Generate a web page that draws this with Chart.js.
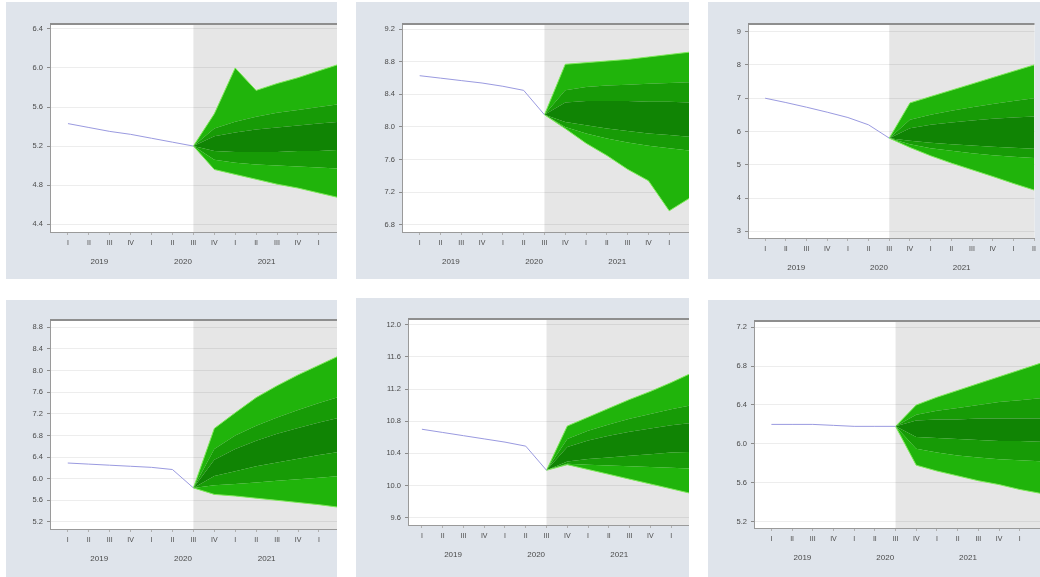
<!DOCTYPE html>
<html><head><meta charset="utf-8">
<script src="https://cdn.jsdelivr.net/npm/chart.js@4.4.1/dist/chart.umd.min.js"></script>
<style>
html,body{margin:0;padding:0;background:#fff;width:1040px;height:577px;overflow:hidden;}
.panel{position:absolute;background:#dfe4eb;overflow:hidden;}
.panel canvas{position:absolute;left:0;top:0;}
</style></head><body>
<div class="panel" style="left:6px;top:2px;width:331px;height:277px"><canvas id="c1" width="331" height="277"></canvas></div>
<div class="panel" style="left:356px;top:2px;width:333px;height:277px"><canvas id="c2" width="333" height="277"></canvas></div>
<div class="panel" style="left:708px;top:2px;width:332px;height:277px"><canvas id="c3" width="332" height="277"></canvas></div>
<div class="panel" style="left:6px;top:300px;width:331px;height:277px"><canvas id="c4" width="331" height="277"></canvas></div>
<div class="panel" style="left:356px;top:298px;width:333px;height:279px"><canvas id="c5" width="333" height="279"></canvas></div>
<div class="panel" style="left:708px;top:300px;width:332px;height:277px"><canvas id="c6" width="332" height="277"></canvas></div>
<script>
// ---- shared categories ----
const quarterLabels = ['I','II','III','IV','I','II','III','IV','I','II','III','IV','I','II'];
const yearLabels = ['2019','2020','2021'];
const yearCenters = [1.5, 5.5, 9.5];
const histIdx = [0,1,2,3,4,5,6];
const fanIdx = [6,7,8,9,10,11,12,13];
const forecastStart = 6;

// ---- panel 1 ----
const p1Ticks = ['4.4','4.8','5.2','5.6','6.0','6.4'];
const p1Hist = [5.43,5.39,5.35,5.32,5.28,5.24,5.20];
const p1Hi3 = [5.20,5.53,6.00,5.77,5.84,5.90,5.97,6.04];
const p1Hi2 = [5.20,5.38,5.45,5.50,5.54,5.57,5.60,5.63];
const p1Hi1 = [5.20,5.30,5.34,5.37,5.39,5.41,5.43,5.45];
const p1Lo1 = [5.20,5.15,5.14,5.14,5.14,5.15,5.15,5.16];
const p1Lo2 = [5.20,5.06,5.03,5.01,5.00,4.99,4.98,4.97];
const p1Lo3 = [5.20,4.96,4.91,4.86,4.81,4.77,4.72,4.67];

// ---- panel 2 ----
const p2Ticks = ['6.8','7.2','7.6','8.0','8.4','8.8','9.2'];
const p2Hist = [8.63,8.60,8.57,8.54,8.50,8.45,8.15];
const p2Hi3 = [8.15,8.77,8.79,8.81,8.83,8.86,8.89,8.92];
const p2Hi2 = [8.15,8.45,8.49,8.51,8.52,8.53,8.54,8.55];
const p2Hi1 = [8.15,8.30,8.32,8.32,8.32,8.31,8.31,8.30];
const p2Lo1 = [8.15,8.06,8.02,7.98,7.95,7.92,7.90,7.88];
const p2Lo2 = [8.15,8.00,7.92,7.86,7.81,7.77,7.74,7.71];
const p2Lo3 = [8.15,7.98,7.80,7.65,7.48,7.34,6.97,7.13];

// ---- panel 3 ----
const p3Ticks = ['3','4','5','6','7','8','9'];
const p3Hist = [7.00,6.87,6.73,6.58,6.42,6.20,5.80];
const p3Hi3 = [5.80,6.86,7.05,7.24,7.43,7.62,7.81,8.00];
const p3Hi2 = [5.80,6.35,6.50,6.62,6.73,6.83,6.92,7.00];
const p3Hi1 = [5.80,6.10,6.20,6.27,6.33,6.38,6.42,6.45];
const p3Lo1 = [5.80,5.72,5.66,5.62,5.58,5.54,5.51,5.48];
const p3Lo2 = [5.80,5.62,5.50,5.42,5.35,5.29,5.24,5.20];
const p3Lo3 = [5.80,5.52,5.27,5.05,4.85,4.65,4.44,4.24];

// ---- panel 4 ----
const p4Ticks = ['5.2','5.6','6.0','6.4','6.8','7.2','7.6','8.0','8.4','8.8'];
const p4Hist = [6.29,6.27,6.25,6.23,6.21,6.17,5.83];
const p4Hi3 = [5.83,6.93,7.22,7.50,7.72,7.92,8.10,8.28];
const p4Hi2 = [5.83,6.55,6.80,6.98,7.13,7.27,7.40,7.52];
const p4Hi1 = [5.83,6.35,6.55,6.70,6.83,6.94,7.04,7.13];
const p4Lo1 = [5.83,6.05,6.14,6.23,6.30,6.37,6.44,6.50];
const p4Lo2 = [5.83,5.88,5.90,5.93,5.96,5.99,6.02,6.05];
const p4Lo3 = [5.83,5.71,5.68,5.64,5.60,5.56,5.52,5.47];

// ---- panel 5 ----
const p5Ticks = ['9.6','10.0','10.4','10.8','11.2','11.6','12.0'];
const p5Hist = [10.70,10.66,10.62,10.58,10.54,10.49,10.19];
const p5Hi3 = [10.19,10.74,10.85,10.96,11.07,11.17,11.28,11.40];
const p5Hi2 = [10.19,10.58,10.68,10.76,10.83,10.89,10.95,11.00];
const p5Hi1 = [10.19,10.48,10.56,10.62,10.67,10.71,10.75,10.78];
const p5Lo1 = [10.19,10.30,10.33,10.35,10.37,10.39,10.41,10.42];
const p5Lo2 = [10.19,10.27,10.26,10.25,10.24,10.23,10.22,10.21];
const p5Lo3 = [10.19,10.26,10.20,10.14,10.08,10.02,9.96,9.90];

// ---- panel 6 ----
const p6Ticks = ['5.2','5.6','6.0','6.4','6.8','7.2'];
const p6Hist = [6.20,6.20,6.20,6.19,6.18,6.18,6.18];
const p6Hi3 = [6.18,6.40,6.48,6.55,6.62,6.69,6.76,6.83];
const p6Hi2 = [6.18,6.30,6.34,6.37,6.40,6.43,6.45,6.47];
const p6Hi1 = [6.18,6.24,6.25,6.25,6.26,6.26,6.26,6.26];
const p6Lo1 = [6.18,6.07,6.06,6.05,6.04,6.03,6.03,6.02];
const p6Lo2 = [6.18,5.95,5.91,5.88,5.86,5.84,5.83,5.82];
const p6Lo3 = [6.18,5.78,5.72,5.67,5.62,5.58,5.53,5.49];

// ---- styling ----
const FONT = "'Liberation Sans', Arial, sans-serif";
const C_LIGHT = '#20b40b', C_MID = '#179b06', C_DARK = '#108404', C_EDGE = '#7ee85a';
const C_HIST = '#9a9ae0';

const frame = {
  id: 'frame',
  beforeDraw(chart) {
    const {ctx, chartArea: a, scales} = chart;
    const fx = scales.x.getPixelForValue(forecastStart);
    ctx.save();
    ctx.fillStyle = '#ffffff';
    ctx.fillRect(a.left, a.top, a.right - a.left, a.bottom - a.top);
    ctx.fillStyle = '#e6e6e6';
    ctx.fillRect(fx, a.top, a.right - fx, a.bottom - a.top);
    ctx.restore();
  },
  afterDraw(chart) {
    const {ctx, chartArea: a} = chart;
    ctx.save();
    ctx.strokeStyle = '#8e8e8e';
    ctx.lineWidth = 2;
    ctx.beginPath(); ctx.moveTo(a.left, a.top); ctx.lineTo(a.right, a.top); ctx.stroke();
    ctx.restore();
  }
};

function pts(xs, ys) { return xs.map((x, i) => ({x: x, y: ys[i]})); }

function makeChart(id, lay, yTicks, hist, hi3, hi2, hi1, lo1, lo2, lo3) {
  const qH = 16, yH = 24;
  const tickVals = yTicks.map(t => parseFloat(t));
  const band = (data, color, fill, edge) => ({
    data: pts(fanIdx, data), backgroundColor: color, fill: fill,
    borderColor: edge ? C_EDGE : 'rgba(0,0,0,0)', borderWidth: edge ? 1 : 0,
    pointRadius: 0, tension: 0
  });
  new Chart(document.getElementById(id), {
    type: 'line',
    data: {
      datasets: [
        {data: pts(histIdx, hist), borderColor: C_HIST, borderWidth: 1, pointRadius: 0, fill: false, tension: 0},
        band(lo3, C_LIGHT, false, true),
        band(lo2, C_LIGHT, '-1', false),
        band(lo1, C_MID, '-1', false),
        band(hi1, C_DARK, '-1', false),
        band(hi2, C_MID, '-1', false),
        band(hi3, C_LIGHT, '-1', true)
      ]
    },
    options: {
      responsive: false, animation: false, devicePixelRatio: 1,
      layout: {padding: {left: 0, right: 0, top: lay.top, bottom: lay.pb}},
      plugins: {legend: {display: false}, tooltip: {enabled: false}},
      scales: {
        x: {
          type: 'linear', position: 'bottom', min: lay.xmin, max: lay.xmax,
          afterBuildTicks: s => { s.ticks = quarterLabels.map((_, i) => ({value: i})).filter(t => t.value >= lay.xmin && t.value <= lay.xmax); },
          afterFit: s => { s.height = qH; },
          ticks: {callback: v => quarterLabels[v], font: {size: 7, family: FONT}, color: '#4a4a4a', padding: 4, maxRotation: 0, autoSkip: false},
          grid: {drawOnChartArea: false, drawTicks: true, tickLength: 3, color: '#b0b0b0'},
          border: {color: '#9a9a9a', width: 1}
        },
        xYear: {
          type: 'linear', position: 'bottom', min: lay.xmin, max: lay.xmax,
          afterBuildTicks: s => { s.ticks = yearCenters.map(v => ({value: v})); },
          afterFit: s => { s.height = yH; },
          ticks: {callback: v => yearLabels[yearCenters.indexOf(v)], font: {size: 8, family: FONT}, color: '#4a4a4a', padding: 9, maxRotation: 0, autoSkip: false},
          grid: {display: false, drawTicks: false},
          border: {display: false}
        },
        y: {
          min: lay.ymin, max: lay.ymax,
          afterBuildTicks: s => { s.ticks = tickVals.map(v => ({value: v})); },
          afterFit: s => { s.width = lay.left; },
          ticks: {callback: v => yTicks[tickVals.indexOf(v)], font: {size: 7.5, family: FONT}, color: '#4a4a4a', padding: 4, autoSkip: false},
          grid: {color: 'rgba(0,0,0,0.07)', tickColor: '#8a8a8a', tickLength: 3},
          border: {color: '#9a9a9a', width: 1}
        }
      }
    },
    plugins: [frame]
  });
}

makeChart('c1', {left: 44, top: 22, pb: 7, xmin: -0.86, xmax: 12.87, ymin: 4.32, ymax: 6.45}, p1Ticks, p1Hist, p1Hi3, p1Hi2, p1Hi1, p1Lo1, p1Lo2, p1Lo3);
makeChart('c2', {left: 46, top: 22, pb: 7, xmin: -0.85, xmax: 12.95, ymin: 6.71, ymax: 9.265}, p2Ticks, p2Hist, p2Hi3, p2Hi2, p2Hi1, p2Lo1, p2Lo2, p2Lo3);
makeChart('c3', {left: 40, top: 22, pb: 1, xmin: -0.83, xmax: 13.02, ymin: 2.80, ymax: 9.23}, p3Ticks, p3Hist, p3Hi3, p3Hi2, p3Hi1, p3Lo1, p3Lo2, p3Lo3);
makeChart('c4', {left: 44, top: 20, pb: 8, xmin: -0.85, xmax: 12.86, ymin: 5.07, ymax: 8.935}, p4Ticks, p4Hist, p4Hi3, p4Hi2, p4Hi1, p4Lo1, p4Lo2, p4Lo3);
makeChart('c5', {left: 52, top: 21, pb: 12, xmin: -0.67, xmax: 12.86, ymin: 9.51, ymax: 12.07}, p5Ticks, p5Hist, p5Hi3, p5Hi2, p5Hi1, p5Lo1, p5Lo2, p5Lo3);
makeChart('c6', {left: 46, top: 21, pb: 9, xmin: -0.84, xmax: 12.98, ymin: 5.133, ymax: 7.265}, p6Ticks, p6Hist, p6Hi3, p6Hi2, p6Hi1, p6Lo1, p6Lo2, p6Lo3);
</script>
</body></html>
